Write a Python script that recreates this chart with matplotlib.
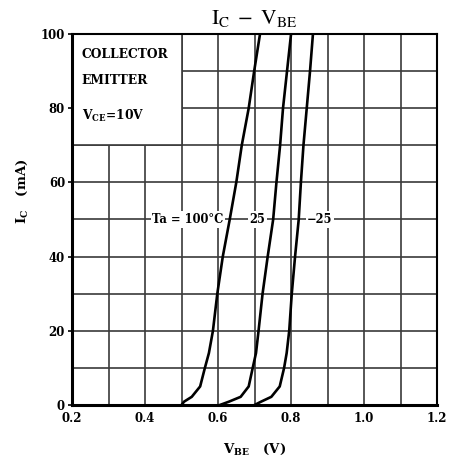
import matplotlib.pyplot as plt
from matplotlib.patches import Rectangle

plt.rcParams['font.family'] = ['DejaVu Serif']
plt.rcParams['mathtext.fontset'] = 'dejavuserif'

# Ic in mA, Vbe in V
ic = [0, 0.9, 2.2, 5, 10, 14, 20, 30, 40, 50, 60, 70, 80, 90, 100]
vbe_100 = [0.500, 0.507, 0.528, 0.551, 0.564, 0.575, 0.586, 0.598, 0.613, 0.632, 0.650, 0.665, 0.684, 0.699, 0.715]
vbe_25 = [0.605, 0.630, 0.662, 0.684, 0.695, 0.704, 0.711, 0.722, 0.736, 0.751, 0.760, 0.770, 0.778, 0.789, 0.800]
vbe_m25 = [0.700, 0.718, 0.746, 0.769, 0.781, 0.788, 0.795, 0.802, 0.811, 0.821, 0.827, 0.834, 0.843, 0.852, 0.860]

curve_labels = ['Ta = 100°C', '25', '−25']
label_x = [0.518, 0.707, 0.879]
label_y = 50

xticks = [0.2, 0.4, 0.6, 0.8, 1.0, 1.2]
yticks = [0, 20, 40, 60, 80, 100]

fig = plt.figure(figsize=(4.49, 4.62), dpi=100)
ax = fig.add_axes([0.1604, 0.1234, 0.813, 0.803])

ax.set_xlim(0.2, 1.2)
ax.set_ylim(0, 100)
ax.set_xticks(xticks)
ax.set_xticklabels(['%.1f' % v for v in xticks])
ax.set_yticks(yticks)
ax.set_xticks([0.3, 0.5, 0.7, 0.9, 1.1], minor=True)
ax.set_yticks([10, 30, 50, 70, 90], minor=True)
ax.set_axisbelow(True)
ax.grid(True, which='both', color='#3a3a3a', linewidth=1.2)
ax.tick_params(axis='both', which='major', labelsize=8.5, direction='out', length=3, width=1.2, pad=2)
ax.tick_params(axis='x', which='major', length=0, pad=5)
ax.tick_params(which='minor', length=0)
for lab in ax.get_xticklabels() + ax.get_yticklabels():
    lab.set_fontweight('bold')

ax.spines['left'].set_linewidth(2.2)
ax.spines['bottom'].set_linewidth(2.2)
ax.spines['top'].set_linewidth(1.5)
ax.spines['right'].set_linewidth(1.5)

# blank box in the upper-left corner holding the condition text
ax.add_patch(Rectangle((0.2, 70), 0.3, 30, facecolor='white', edgecolor='#3a3a3a',
                       linewidth=1.2, zorder=1))
ax.text(0.226, 94.5, 'COLLECTOR', fontsize=8.8, fontweight='bold', va='center', zorder=3)
ax.text(0.226, 87.5, 'EMITTER', fontsize=8.8, fontweight='bold', va='center', zorder=3)
ax.text(0.226, 77.8, r'$\mathbf{V_{CE}}$=10V', fontsize=8.8, fontweight='bold', va='center', zorder=3)

for v in (vbe_100, vbe_25, vbe_m25):
    ax.plot(v, ic, color='black', linewidth=1.9, zorder=4, solid_joinstyle='round')

for s, x in zip(curve_labels, label_x):
    ax.text(x, label_y, s, fontsize=8.3, fontweight='bold', ha='center', va='center',
            bbox=dict(facecolor='white', edgecolor='none', pad=1.2), zorder=3)

ax.set_title(r'$\mathrm{I_C\ -\ V_{BE}}$', fontsize=15.5, pad=7, math_fontfamily='stix')
ax.set_xlabel(r'$\mathbf{V_{BE}}$   (V)', fontsize=9.5, fontweight='bold', labelpad=12)
ax.set_ylabel(r'$\mathbf{I_C}$   (mA)', fontsize=9.5, fontweight='bold')
ax.yaxis.set_label_coords(-0.115, 0.575)

fig.savefig('out.png', dpi=100)
